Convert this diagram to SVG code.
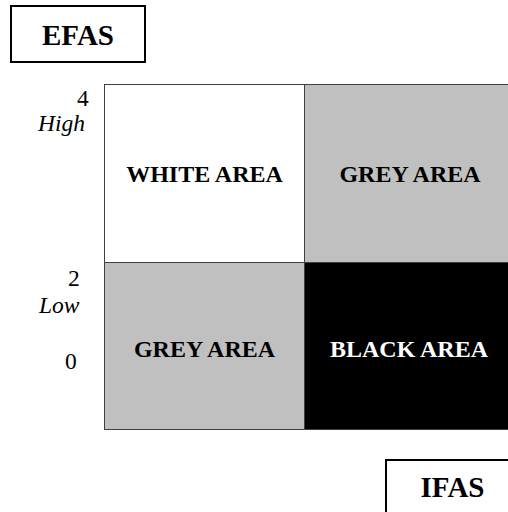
<svg xmlns="http://www.w3.org/2000/svg" width="508" height="512" viewBox="0 0 508 512">
<style>
.box{fill:#fff;stroke:#000;stroke-width:2}
.title{font-family:"Liberation Serif","Times New Roman",serif;font-weight:bold;font-size:29px;text-anchor:middle;fill:#000}
.cell{stroke:#404040;stroke-width:1}
.area{font-family:"Liberation Serif","Times New Roman",serif;font-weight:bold;font-size:24px;text-anchor:middle}
.num{font-family:"Liberation Serif","Times New Roman",serif;font-size:23.5px;fill:#000}
.it{font-style:italic}
</style>
<rect width="508" height="512" fill="#fff"/>
<g id="efas">
<rect class="box" x="11" y="6" width="134" height="56"/>
<text class="title" x="78" y="45">EFAS</text>
</g>
<g id="ifas">
<rect class="box" x="386" y="460" width="134" height="58"/>
<text class="title" x="452.5" y="497">IFAS</text>
</g>
<g id="axis-labels">
<text class="num" x="77" y="106">4</text>
<text class="num it" x="38" y="131">High</text>
<text class="num" x="68" y="286">2</text>
<text class="num it" x="39" y="313">Low</text>
<text class="num" x="65" y="369">0</text>
</g>
<g id="white-area">
<rect class="cell" x="104.5" y="84.5" width="200" height="178" fill="#fff"/>
<text class="area" x="204.5" y="182" fill="#000">WHITE AREA</text>
</g>
<g id="grey-area-top">
<rect class="cell" x="304.5" y="84.5" width="215" height="178" fill="#c0c0c0"/>
<text class="area" x="410" y="182" fill="#000">GREY AREA</text>
</g>
<g id="grey-area-bottom">
<rect class="cell" x="104.5" y="262.5" width="200" height="167" fill="#c0c0c0"/>
<text class="area" x="204.5" y="357" fill="#000">GREY AREA</text>
</g>
<g id="black-area">
<rect class="cell" x="304.5" y="262.5" width="215" height="167" fill="#000"/>
<text class="area" x="409" y="357" fill="#fff">BLACK AREA</text>
</g>
<g id="connectors"></g>
</svg>
